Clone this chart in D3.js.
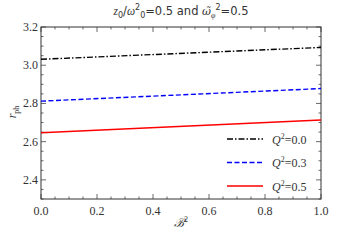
<!DOCTYPE html>
<html>
<head>
<meta charset="utf-8">
<script src="https://cdn.jsdelivr.net/npm/d3@7"></script>
<style>
body { margin: 0; background: #fff; }
</style>
</head>
<body>
<script>
var width = 345, height = 241
var margin = {top: 27, right: 24, bottom: 42, left: 41}
var serif = "'Liberation Serif', 'Times New Roman', serif"
var sans = "'DejaVu Sans', sans-serif"

// data
var bValues = [0.0, 1.0]
var series = ["Q2=0.0", "Q2=0.3", "Q2=0.5"]
var qLabels = ["0.0", "0.3", "0.5"]
var rph00 = [3.031, 3.093]
var rph03 = [2.812, 2.878]
var rph05 = [2.647, 2.713]
var colors = ["#000000", "#0000ff", "#ff0000"]
var dashes = ["6,2,1.5,2", "5,2.5", null]
var xTicks = [0, 0.2, 0.4, 0.6, 0.8, 1.0]
var yTicks = [2.4, 2.6, 2.8, 3.0, 3.2]

var allR = [rph00, rph03, rph05]

var svg = d3.select("body").append("svg")
    .attr("width", width).attr("height", height)

var x = d3.scaleLinear().domain([0, 1]).range([margin.left, width - margin.right])
var y = d3.scaleLinear().domain([2.3, 3.2]).range([height - margin.bottom, margin.top])

var x0 = x.range()[0], x1 = x.range()[1], y0 = y.range()[0], y1 = y.range()[1]

// ticks (inward, all four sides)
var g = svg.append("g").attr("stroke", "#444").attr("stroke-width", 0.8)
d3.range(0, 1.0001, 0.05).forEach(function(v) {
    var major = Math.abs(v * 5 - Math.round(v * 5)) < 1e-6
    var len = major ? 5 : 2.5
    g.append("line").attr("x1", x(v)).attr("x2", x(v)).attr("y1", y0).attr("y2", y0 - len)
    g.append("line").attr("x1", x(v)).attr("x2", x(v)).attr("y1", y1).attr("y2", y1 + len)
})
d3.range(2.3, 3.2001, 0.05).forEach(function(v) {
    var major = Math.abs(v * 5 - Math.round(v * 5)) < 1e-6
    var len = major ? 5 : 2.5
    g.append("line").attr("y1", y(v)).attr("y2", y(v)).attr("x1", x0).attr("x2", x0 + len)
    g.append("line").attr("y1", y(v)).attr("y2", y(v)).attr("x1", x1).attr("x2", x1 - len)
})

// frame
svg.append("rect").attr("x", x0).attr("y", y1).attr("width", x1 - x0).attr("height", y0 - y1)
    .attr("fill", "none").attr("stroke", "#333").attr("stroke-width", 1)

// tick labels
svg.selectAll(".xt").data(xTicks).enter().append("text")
    .attr("x", function(d) { return x(d) }).attr("y", y0 + 16)
    .attr("text-anchor", "middle").attr("font-size", 12).attr("fill", "#333")
    .attr("font-family", serif)
    .text(function(d) { return d.toFixed(1) })
svg.selectAll(".yt").data(yTicks).enter().append("text")
    .attr("x", x0 - 3).attr("y", function(d) { return y(d) + 4 })
    .attr("text-anchor", "end").attr("font-size", 12).attr("fill", "#333")
    .attr("font-family", serif)
    .text(function(d) { return d.toFixed(1) })

// lines
var line = d3.line().x(function(d) { return x(d[0]) }).y(function(d) { return y(d[1]) })
allR.forEach(function(r, i) {
    svg.append("path")
        .attr("d", line(bValues.map(function(b, j) { return [b, r[j]] })))
        .attr("fill", "none").attr("stroke", colors[i]).attr("stroke-width", 1.4)
        .attr("stroke-dasharray", dashes[i])
})

// legend
series.forEach(function(s, i) {
    var ly = 139 + i * 23.5
    svg.append("line").attr("x1", 227).attr("x2", 263).attr("y1", ly).attr("y2", ly)
        .attr("stroke", colors[i]).attr("stroke-width", 1.4).attr("stroke-dasharray", dashes[i])
    var t = svg.append("text").attr("x", 272).attr("y", ly + 4.5).attr("font-size", 12)
        .attr("fill", "#333").attr("font-family", serif)
    t.append("tspan").attr("font-style", "italic").text("Q")
    t.append("tspan").attr("font-size", 8).attr("dy", -5).text("2")
    t.append("tspan").attr("dy", 5).text("=" + qLabels[i])
})

// axis labels
var xl = svg.append("text").attr("x", 181).attr("y", 227).attr("text-anchor", "middle")
    .attr("font-size", 12).attr("fill", "#333").attr("font-family", serif)
xl.append("tspan").attr("font-style", "italic").text("\u212C")
xl.append("tspan").attr("font-size", 8).attr("dy", -5).text("2")

var yl = svg.append("text").attr("transform", "translate(16,112) rotate(-90)")
    .attr("text-anchor", "middle").attr("font-size", 12).attr("fill", "#333").attr("font-family", serif)
yl.append("tspan").attr("font-style", "italic").text("r")
yl.append("tspan").attr("font-size", 8).attr("dy", 3).text("ph")

// title
var tt = svg.append("text").attr("x", 181).attr("y", 15).attr("text-anchor", "middle")
    .attr("font-size", 11.5).attr("fill", "#333").attr("font-family", sans)
tt.append("tspan").attr("font-style", "italic").attr("font-family", serif).text("z")
tt.append("tspan").attr("font-size", 8).attr("dy", 3).text("0")
tt.append("tspan").attr("dy", -3).text("/")
tt.append("tspan").attr("font-style", "italic").attr("font-family", serif).text("\u03C9")
tt.append("tspan").attr("font-size", 8).attr("dy", -5).text("2")
tt.append("tspan").attr("font-size", 8).attr("dy", 8).text("0")
tt.append("tspan").attr("dy", -3).text("=0.5 and ")
tt.append("tspan").attr("font-style", "italic").attr("font-family", "'DejaVu Serif', serif").attr("font-size", 11).text("\u03C9\u0303")
tt.append("tspan").attr("font-size", 8).attr("dy", 3).attr("font-style", "italic").attr("font-family", serif).text("\u03C6")
tt.append("tspan").attr("font-size", 8).attr("dy", -8).text("2")
tt.append("tspan").attr("dy", 5).text("=0.5")
</script>
</body>
</html>
